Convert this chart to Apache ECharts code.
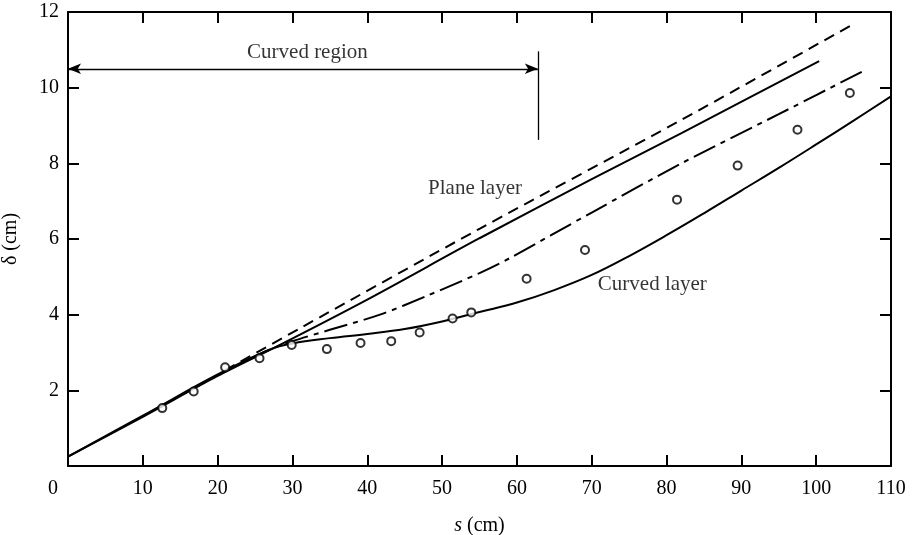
<!DOCTYPE html>
<html>
<head>
<meta charset="utf-8">
<script src="https://cdn.jsdelivr.net/npm/echarts@6/dist/echarts.min.js"></script>
<style>
  html, body { margin: 0; padding: 0; background: #fff; }
  #chart { width: 915px; height: 535px; }
</style>
</head>
<body>
<div id="chart"></div>
<script>
// measured points (circles)
const measS = [12.6, 16.8, 21.0, 25.6, 29.9, 34.6, 39.1, 43.2, 47.0, 51.4, 53.9, 61.3, 69.1, 81.4, 89.5, 97.5, 104.5];
const measD = [1.53, 1.97, 2.61, 2.85, 3.20, 3.09, 3.25, 3.30, 3.53, 3.90, 4.06, 4.95, 5.71, 7.04, 7.94, 8.89, 9.86];

// curves [s, delta]
const planeSolid = [[0, 0.25], [10, 1.3], [20, 2.38], [28, 3.17], [40, 4.4], [55, 6.02], [70, 7.58], [82, 8.8], [100.4, 10.7]];
const planeDashed = [[21, 2.53], [31, 3.64], [55, 6.27], [82, 9.15], [104.6, 11.64]];
const dashDot = [[24, 2.8], [27, 3.08], [30, 3.3], [35, 3.6], [41.7, 4.0], [48, 4.5], [55, 5.1], [59, 5.49], [70, 6.7], [82, 8.0], [95, 9.3], [106.7, 10.48]];
const curvedSolid = [[0, 0.25], [10, 1.33], [20, 2.42], [27, 3.08], [30, 3.24], [35, 3.38], [40, 3.49], [45, 3.62], [50, 3.82], [55, 4.07],
  [60, 4.32], [65, 4.65], [70, 5.05], [75, 5.55], [80, 6.1], [85, 6.68], [90, 7.28], [95, 7.88], [100, 8.5], [105, 9.13], [110, 9.77]];

// annotations
const labelTexts = ['Plane layer', 'Curved layer', 'Curved region'];
const labelPos = [[54.4, 7.33], [78.1, 4.79], [32.0, 10.93]];
const regionArrow = [[0, 10.5], [62.8, 10.5]];
const regionBar = [[62.8, 10.96], [62.8, 8.62]];

const xTicks = [0, 110, 10]; // min, max, interval
const yTicks = [0, 12, 2];

const font = 'Liberation Serif';
const black = '#000';

const chart = echarts.init(document.getElementById('chart'));

const axisCommon = {
  axisLine: { show: true, onZero: false, lineStyle: { color: black, width: 2 } },
  axisTick: { show: true, inside: true, length: 11, lineStyle: { color: black, width: 2 } },
  splitLine: { show: false },
};

const option = {
  animation: false,
  backgroundColor: '#fff',
  grid: { left: 68, right: 24, top: 12, bottom: 69, outerBoundsMode: 'none' },
  xAxis: [
    Object.assign({}, axisCommon, {
      type: 'value', min: xTicks[0], max: xTicks[1], interval: xTicks[2],
      position: 'bottom',
      name: '{i|s} (cm)', nameLocation: 'middle', nameGap: 50,
      nameTextStyle: { fontFamily: font, fontSize: 20, color: black, rich: { i: { fontFamily: font, fontSize: 20, fontStyle: 'italic', color: black } } },
      axisLabel: {
        margin: 13, fontFamily: font, fontSize: 20, color: black,
        formatter: v => v === 0 ? '{z|0}' : String(v),
        rich: { z: { fontFamily: font, fontSize: 20, color: black, padding: [0, 30, 0, 0] } },
      },
    }),
    Object.assign({}, axisCommon, {
      type: 'value', min: xTicks[0], max: xTicks[1], interval: xTicks[2],
      position: 'top', axisLabel: { show: false },
    }),
  ],
  yAxis: [
    Object.assign({}, axisCommon, {
      type: 'value', min: yTicks[0], max: yTicks[1], interval: yTicks[2],
      position: 'left',
      name: 'δ (cm)', nameLocation: 'middle', nameGap: 47, nameRotate: 90,
      nameTextStyle: { fontFamily: font, fontSize: 20, color: black },
      axisLabel: {
        margin: 9, fontFamily: font, fontSize: 20, color: black,
        formatter: v => v === 0 ? '' : String(v),
      },
    }),
    Object.assign({}, axisCommon, {
      type: 'value', min: yTicks[0], max: yTicks[1], interval: yTicks[2],
      position: 'right', axisLabel: { show: false },
    }),
  ],
  series: [
    {
      name: 'curved', type: 'line', data: curvedSolid, smooth: 0.4, showSymbol: false,
      lineStyle: { color: black, width: 2 },
      markLine: {
        silent: true, symbol: ['arrow', 'arrow'], symbolSize: [8, 13],
        label: { show: false },
        lineStyle: { color: black, width: 1.3, type: 'solid' },
        data: [
          [{ coord: regionArrow[0] }, { coord: regionArrow[1] }],
          [{ coord: regionBar[0], symbol: 'none' }, { coord: regionBar[1], symbol: 'none' }],
        ],
      },
    },
    {
      name: 'plane', type: 'line', data: planeSolid, smooth: 0.3, showSymbol: false,
      lineStyle: { color: black, width: 2 },
    },
    {
      name: 'planeDashed', type: 'line', data: planeDashed, smooth: 0.3, showSymbol: false,
      lineStyle: { color: black, width: 2, type: [11, 7] },
    },
    {
      name: 'dashDot', type: 'line', data: dashDot, smooth: 0.3, showSymbol: false,
      lineStyle: { color: black, width: 2, type: [24, 6, 5, 6] },
    },
    {
      name: 'measured', type: 'scatter',
      data: measS.map((s, i) => [s, measD[i]]),
      symbol: 'circle', symbolSize: 8,
      itemStyle: { color: '#fff', borderColor: black, borderWidth: 2 },
      z: 5,
    },
    {
      name: 'labels', type: 'scatter', symbolSize: 0, silent: true,
      data: labelTexts.map((t, i) => ({ name: t, value: labelPos[i] })),
      label: { show: true, position: 'inside', formatter: p => p.name, fontFamily: font, fontSize: 21, color: black },
    },
  ],
};

chart.setOption(option);
</script>
</body>
</html>
